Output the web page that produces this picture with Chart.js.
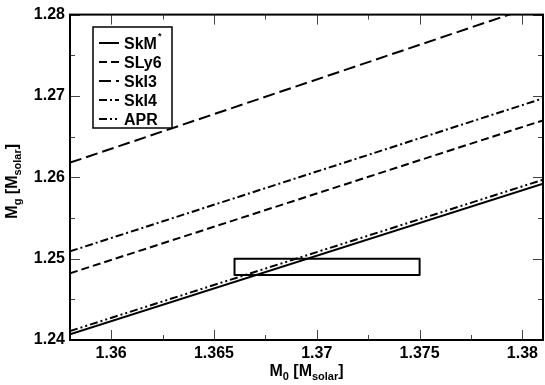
<!DOCTYPE html>
<html>
<head>
<meta charset="utf-8">
<script src="https://cdn.jsdelivr.net/npm/chart.js@4/dist/chart.umd.min.js"></script>
<style>
  body { margin: 0; background: #fff; }
  canvas { display: block; }
</style>
</head>
<body>
<canvas id="mgChart" width="545" height="385"></canvas>
<script>
// end points of each straight line (M0 at left / right edge of the plot)
var xEnds = [1.358, 1.381];
var names = ['SkM*', 'SLy6', 'SkI3', 'SkI4', 'APR'];
var skmY  = [1.2407, 1.2592];
var sly6Y = [1.2482, 1.2670];
var ski3Y = [1.2618, 1.2814];
var ski4Y = [1.2509, 1.2697];
var aprY  = [1.2411, 1.2597];

// the observed box
var boxX = [1.366, 1.375, 1.375, 1.366, 1.366];
var boxY = [1.248, 1.248, 1.250, 1.250, 1.248];

// tick labels
var xTicks = [1.36, 1.365, 1.37, 1.375, 1.38];
var yTicks = [1.24, 1.25, 1.26, 1.27, 1.28];

var dashes = [[], [8, 4], [12, 5], [8, 3, 2, 3], [8, 3, 2, 3, 2, 3]];
var FONT = '"Liberation Sans", Arial, Helvetica, sans-serif';

function pts(xs, ys) {
    return xs.map(function (x, i) { return { x: x, y: ys[i] }; });
}

var series = [skmY, sly6Y, ski3Y, ski4Y, aprY];
var datasets = series.map(function (ys, i) {
    return {
        label: names[i],
        data: pts(xEnds, ys),
        borderColor: '#000',
        borderWidth: 2,
        borderDash: dashes[i],
        pointRadius: 0,
        fill: false
    };
});
datasets.push({
    label: 'box',
    data: pts(boxX, boxY),
    borderColor: '#000',
    borderWidth: 2,
    borderJoinStyle: 'round',
    pointRadius: 0,
    fill: false
});

// draw text with sub/superscripts, centred on x
function richText(ctx, parts, x, y, size) {
    var total = 0;
    parts.forEach(function (p) {
        ctx.font = 'bold ' + (p.s ? Math.round(size * 0.7) : size) + 'px ' + FONT;
        p.w = ctx.measureText(p.t).width;
        total += p.w;
    });
    var cx = x - total / 2;
    parts.forEach(function (p) {
        ctx.font = 'bold ' + (p.s ? Math.round(size * 0.7) : size) + 'px ' + FONT;
        ctx.fillText(p.t, cx, y + (p.s ? size * 0.28 : 0));
        cx += p.w;
    });
}

var framePlugin = {
    id: 'frame',
    afterDraw: function (chart) {
        var ctx = chart.ctx;
        var a = chart.chartArea;
        var xs = chart.scales.x, ys = chart.scales.y;
        ctx.save();

        // inward ticks on all four sides
        ctx.strokeStyle = '#444';
        ctx.lineWidth = 1;
        ctx.setLineDash([]);
        function xtick(v, len) {
            var px = Math.round(xs.getPixelForValue(v)) + 0.5;
            ctx.beginPath();
            ctx.moveTo(px, a.bottom); ctx.lineTo(px, a.bottom - len);
            ctx.moveTo(px, a.top); ctx.lineTo(px, a.top + len);
            ctx.stroke();
        }
        function ytick(v, len) {
            var py = Math.round(ys.getPixelForValue(v)) + 0.5;
            ctx.beginPath();
            ctx.moveTo(a.left, py); ctx.lineTo(a.left + len, py);
            ctx.moveTo(a.right, py); ctx.lineTo(a.right - len, py);
            ctx.stroke();
        }
        xTicks.forEach(function (v, i) {
            xtick(v, 10);
            if (i < xTicks.length - 1) xtick((v + xTicks[i + 1]) / 2, 5);
        });
        yTicks.forEach(function (v, i) {
            ytick(v, 10);
            if (i < yTicks.length - 1) ytick((v + yTicks[i + 1]) / 2, 5);
        });

        // frame
        ctx.strokeStyle = '#000';
        ctx.lineWidth = 2;
        ctx.strokeRect(a.left, a.top, a.right - a.left, a.bottom - a.top);

        // axis titles
        ctx.fillStyle = '#000';
        ctx.textBaseline = 'alphabetic';
        ctx.textAlign = 'left';
        richText(ctx, [{ t: 'M' }, { t: '0', s: 1 }, { t: ' [M' }, { t: 'solar', s: 1 }, { t: ']' }],
            (a.left + a.right) / 2, 376, 16);
        ctx.save();
        ctx.translate(17, (a.top + a.bottom) / 2 + 4);
        ctx.rotate(-Math.PI / 2);
        richText(ctx, [{ t: 'M' }, { t: 'g', s: 1 }, { t: ' [M' }, { t: 'solar', s: 1 }, { t: ']' }],
            0, 0, 16);
        ctx.restore();

        // legend
        ctx.fillStyle = '#fff';
        ctx.fillRect(93, 27, 79, 101);
        ctx.strokeStyle = '#000';
        ctx.lineWidth = 1.5;
        ctx.strokeRect(93, 27, 79, 101);
        for (var i = 0; i < names.length; i++) {
            var base = 48.5 + i * 19;
            var ds = chart.data.datasets[i];
            ctx.setLineDash(ds.borderDash);
            ctx.lineWidth = 2;
            ctx.beginPath();
            ctx.moveTo(99, base - 5.5);
            ctx.lineTo(119, base - 5.5);
            ctx.stroke();
            ctx.setLineDash([]);
            ctx.fillStyle = '#000';
            ctx.font = 'bold 16px ' + FONT;
            var label = names[i];
            var star = label.charAt(label.length - 1) === '*';
            if (star) label = label.slice(0, -1);
            ctx.fillText(label, 124, base);
            if (star) {
                var w = ctx.measureText(label).width;
                ctx.font = 'bold 9px ' + FONT;
                ctx.fillText('*', 124 + w + 1, base - 10);
            }
        }
        ctx.restore();
    }
};

var tickFont = { size: 16, weight: 'bold', family: FONT };

var mgChart = new Chart(document.getElementById('mgChart'), {
    type: 'line',
    data: { datasets: datasets },
    options: {
        responsive: false,
        animation: false,
        layout: { padding: { left: 0, top: 8, right: 2, bottom: 0 } },
        plugins: { legend: { display: false }, tooltip: { enabled: false } },
        scales: {
            x: {
                type: 'linear',
                min: xEnds[0],
                max: xEnds[1],
                grid: { display: false, drawTicks: false },
                border: { display: false },
                ticks: {
                    font: tickFont, color: '#000', padding: 4,
                    maxRotation: 0, autoSkip: false,
                    callback: function (v) { return String(+v.toFixed(4)); }
                },
                afterBuildTicks: function (s) { s.ticks = xTicks.map(function (v) { return { value: v }; }); },
                afterFit: function (s) { s.height = 45; }
            },
            y: {
                type: 'linear',
                min: yTicks[0],
                max: yTicks[yTicks.length - 1],
                grid: { display: false, drawTicks: false },
                border: { display: false },
                ticks: {
                    font: tickFont, color: '#000', padding: 5,
                    callback: function (v) { return String(+v.toFixed(4)); }
                },
                afterBuildTicks: function (s) { s.ticks = yTicks.map(function (v) { return { value: v }; }); },
                afterFit: function (s) { s.width = 70; }
            }
        }
    },
    plugins: [framePlugin]
});
</script>
</body>
</html>
